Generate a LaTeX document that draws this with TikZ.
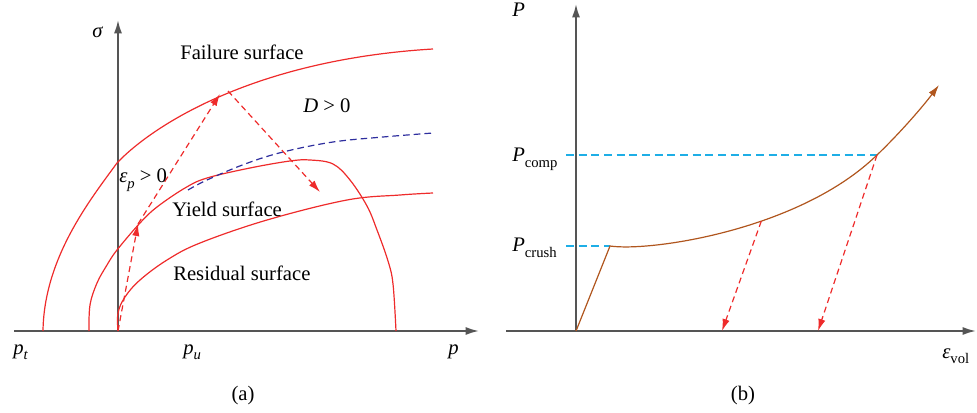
\documentclass[tikz,border=0pt]{standalone}
\usepackage{fontspec}
\setmainfont{Liberation Serif}
\usetikzlibrary{arrows.meta}
\definecolor{redc}{HTML}{EE2B2B}
\definecolor{brownc}{HTML}{B0561E}
\definecolor{cyanc}{HTML}{1EAEE6}
\definecolor{bluec}{HTML}{2E2E9E}
\definecolor{axisc}{HTML}{555555}
\newcommand{\sublbl}[2]{\textit{#1}\raisebox{-0.55ex}{\fontsize{11}{11}\selectfont #2}}
\newcommand{\isublbl}[2]{\textit{#1}\raisebox{-0.55ex}{\fontsize{11}{11}\selectfont\itshape #2}}
\begin{document}
\begin{tikzpicture}[x=0.75pt,y=-0.75pt,
  lbl/.style={inner sep=0pt, font=\fontsize{15.5}{18}\selectfont},
  axisline/.style={draw=axisc, line width=1.4pt, -{Latex[length=10pt,width=6pt]}},
  surf/.style={draw=redc, line width=0.9pt},
  redarrow/.style={draw=redc, line width=0.9pt, dash pattern=on 4.5pt off 3pt, -{Latex[length=9pt,width=5.5pt]}},
  bluedash/.style={draw=bluec, line width=0.9pt, dash pattern=on 5pt off 3pt},
  cyandash/.style={draw=cyanc, line width=0.9pt, dash pattern=on 6pt off 3.5pt},
  brownline/.style={draw=brownc, line width=0.9pt}]
\useasboundingbox (0,0) rectangle (977,413);

% ---------- panel (a) ----------
\coordinate (O1) at (118,331);
\coordinate (xs1) at (14,331);
\coordinate (xe1) at (479,331);
\coordinate (ye1) at (118,20);
\draw[axisline] (xs1) -- (xe1);
\draw[axisline] (O1) -- (ye1);

\draw[surf] (43,331) .. controls (44,258) and (90,200) .. (117,163)
  .. controls (150,128) and (250,60) .. (433,49);
\draw[surf] plot[smooth, tension=0.6] coordinates {(89,331) (90,305) (97,283) (107,265) (117,250) (140,223) (157,207) (185,188) (207,178) (250,168) (290,161) (310,160) (333,164) (350,180) (367,206) (377,230) (388,261) (393,284) (396,331)};
\draw[surf] plot[smooth, tension=0.6] coordinates {(118,331) (118,313) (125,297) (140,280) (167,260) (200,243) (267,220) (347,200) (400,195) (433,193)};
\draw[bluedash] plot[smooth, tension=0.6] coordinates {(188,190) (207,180) (245,164) (283,152) (333,142) (383,137) (433,133)};

\coordinate (a1e) at (138,224);
\coordinate (a2e) at (220,94);
\coordinate (a3s) at (228,91);
\coordinate (a3e) at (320,192);
\draw[redarrow] (O1) -- (a1e);
\draw[redarrow] (a1e) -- (a2e);
\draw[redarrow] (a3s) -- (a3e);

\node[lbl, anchor=base west] (sigma) at (92,38) {\textit{σ}};
\node[lbl, anchor=base west] (pt) at (13,354) {\isublbl{p}{t}};
\node[lbl, anchor=base west] (pu) at (183,354) {\isublbl{p}{u}};
\node[lbl, anchor=base west] (pp) at (448,354) {\textit{p}};
\node[lbl, anchor=base west] (fail) at (180,60) {Failure surface};
\node[lbl, anchor=base west] (dpos) at (303,113) {\textit{D} > 0};
\node[lbl, anchor=base west] (eps) at (119,183) {\isublbl{ε}{p} > 0};
\node[lbl, anchor=base west] (yield) at (172,217) {Yield surface};
\node[lbl, anchor=base west] (resid) at (173,280) {Residual surface};
\node[lbl] (capa) at (243,396) {(a)};

% ---------- panel (b) ----------
\coordinate (O2) at (576,331);
\coordinate (xs2) at (506,331);
\coordinate (xe2) at (976,331);
\coordinate (ye2) at (576,4);
\draw[axisline] (xs2) -- (xe2);
\draw[axisline] (O2) -- (ye2);

\coordinate (crush) at (610,246);
\coordinate (comp) at (877,155);
\coordinate (bend) at (939,85);
\coordinate (cr0) at (566,246);
\coordinate (co0) at (566,155);
\coordinate (r1) at (722,331);
\coordinate (r2) at (818,331);

\draw[cyandash] (co0) -- (comp);
\draw[cyandash] (cr0) -- (crush);
\draw[brownline, -{Latex[length=9pt,width=5.5pt]}] (O2) -- (crush) .. controls (650,252) and (800,230) .. (comp) coordinate[pos=0.6] (u1) .. controls (902,131) and (924,105) .. (bend);
\draw[redarrow] (u1) -- (r1);
\draw[redarrow] (comp) -- (r2);

\node[lbl, anchor=base west] (Pax) at (512,17) {\textit{P}};
\node[lbl, anchor=base west] (Pcomp) at (512,162) {\sublbl{P}{comp}};
\node[lbl, anchor=base west] (Pcrush) at (512,252) {\sublbl{P}{crush}};
\node[lbl, anchor=base west] (evol) at (942,358) {\sublbl{ε}{vol}};
\node[lbl] (capb) at (743,396) {(b)};
\end{tikzpicture}
\end{document}
